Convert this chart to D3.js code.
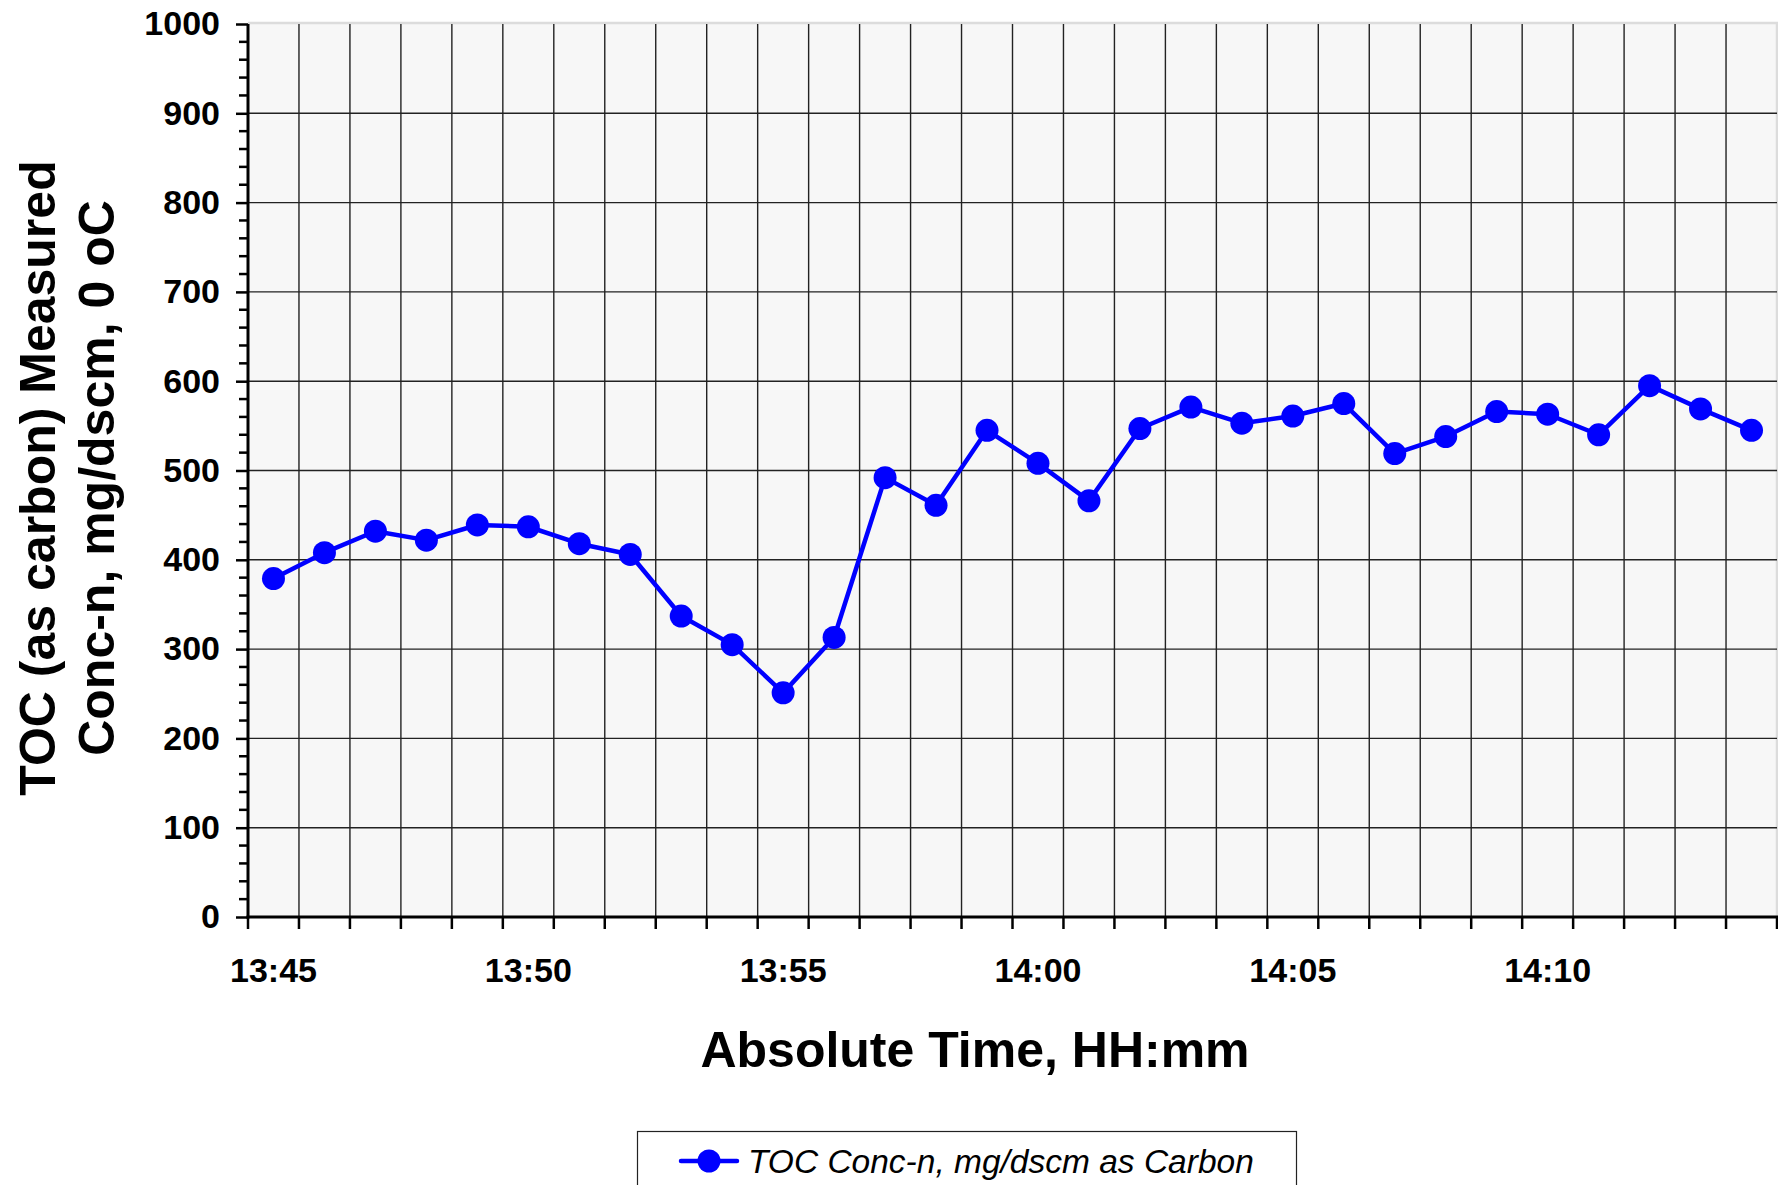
<!DOCTYPE html>
<html>
<head>
<meta charset="utf-8">
<script src="https://cdn.jsdelivr.net/npm/d3@7"></script>
<style>
html,body{margin:0;padding:0;background:#fff;}
svg{display:block;font-family:"Liberation Sans",Arial,sans-serif;}
</style>
</head>
<body>
<svg id="chart" width="1778" height="1185"></svg>
<script>
// ---- data ----
const times = ["13:45","13:46","13:47","13:48","13:49","13:50","13:51","13:52","13:53","13:54",
               "13:55","13:56","13:57","13:58","13:59","14:00","14:01","14:02","14:03","14:04",
               "14:05","14:06","14:07","14:08","14:09","14:10","14:11","14:12","14:13","14:14"];
const tocValues = [379, 408, 432, 422, 439, 437, 418, 406, 337, 305,
                   251, 313, 492, 461, 545, 508, 466, 547, 571, 553,
                   561, 575, 519, 538, 566, 563, 540, 595, 569, 545];
const xTickLabels = ["13:45","13:50","13:55","14:00","14:05","14:10"];
const yTicks = [0,100,200,300,400,500,600,700,800,900,1000];
const seriesName = "TOC Conc-n, mg/dscm as Carbon";
const xTitle = "Absolute Time, HH:mm";
const yTitleLines = ["TOC (as carbon) Measured","Conc-n, mg/dscm, 0 oC"];

// ---- layout ----
const svg = d3.select("#chart");
const L = 248, R = 1777, T = 24, B = 917;

const x = d3.scaleBand().domain(times).range([L, R]).paddingInner(0).paddingOuter(0);
const y = d3.scaleLinear().domain([0, 1000]).range([B, T]);

// plot background
svg.append("rect").attr("x", L).attr("y", T).attr("width", R - L).attr("height", B - T)
  .attr("fill", "#f7f7f7");
// light border top/right
svg.append("path").attr("d", `M${L},${T - 1}H${R}V${B}`)
  .attr("fill", "none").attr("stroke", "#dcdcdc").attr("stroke-width", 2.5);

// gridlines
const gridG = svg.append("g");
yTicks.filter(v => v > 0 && v < 1000).forEach(v => {
  gridG.append("line").attr("x1", L).attr("x2", R).attr("y1", y(v)).attr("y2", y(v))
    .attr("stroke", "#222").attr("stroke-width", 1.4);
});
times.slice(1).forEach(t => {
  gridG.append("line").attr("x1", x(t)).attr("x2", x(t)).attr("y1", T).attr("y2", B)
    .attr("stroke", "#222").attr("stroke-width", 1.4);
});

// y axis
const yAxis = d3.axisLeft(y).tickValues(yTicks).tickSize(12).tickPadding(16).tickFormat(d3.format("d"));
const yG = svg.append("g").attr("transform", `translate(${L},0)`).call(yAxis);
yG.select(".domain").remove();
yG.selectAll(".tick line").attr("stroke", "#000").attr("stroke-width", 2.5);
yG.selectAll(".tick text").attr("font-size", 34).attr("font-weight", "bold").attr("fill", "#000")
  .attr("font-family", "'Liberation Sans',Arial,sans-serif");
// minor ticks
const minor = d3.range(0, 1001, 20).filter(v => v % 100 !== 0);
svg.append("g").selectAll("line").data(minor).join("line")
  .attr("x1", L - 9).attr("x2", L).attr("y1", d => y(d)).attr("y2", d => y(d))
  .attr("stroke", "#000").attr("stroke-width", 2.5);
svg.append("line").attr("x1", L).attr("x2", L).attr("y1", T).attr("y2", B + 1.5)
  .attr("stroke", "#000").attr("stroke-width", 3);

// x axis
const tickPositions = times.map(t => x(t)).concat([R]);
svg.append("g").selectAll("line").data(tickPositions).join("line")
  .attr("x1", d => d).attr("x2", d => d).attr("y1", B).attr("y2", B + 12)
  .attr("stroke", "#000").attr("stroke-width", 2.5);
svg.append("line").attr("x1", L - 1.5).attr("x2", R + 1).attr("y1", B).attr("y2", B)
  .attr("stroke", "#000").attr("stroke-width", 3);
svg.append("g").selectAll("text").data(xTickLabels).join("text")
  .attr("x", d => x(d) + x.bandwidth() / 2).attr("y", 982)
  .attr("text-anchor", "middle").attr("font-size", 34).attr("font-weight", "bold")
  .text(d => d);

// titles
svg.append("text").attr("x", 975).attr("y", 1067).attr("text-anchor", "middle")
  .attr("font-size", 50).attr("font-weight", "bold").text(xTitle);
const yt = svg.append("g").attr("transform", "translate(0,478) rotate(-90)");
yTitleLines.forEach((s, i) => {
  yt.append("text").attr("x", 0).attr("y", 55 + i * 59).attr("text-anchor", "middle")
    .attr("font-size", 50).attr("font-weight", "bold").text(s);
});

// series
const line = d3.line().x((d, i) => x(times[i]) + x.bandwidth() / 2).y(d => y(d));
svg.append("path").datum(tocValues).attr("d", line).attr("fill", "none")
  .attr("stroke", "#0000ff").attr("stroke-width", 4.5).attr("stroke-linejoin", "round");
svg.append("g").selectAll("circle").data(tocValues).join("circle")
  .attr("cx", (d, i) => x(times[i]) + x.bandwidth() / 2).attr("cy", d => y(d))
  .attr("r", 11.5).attr("fill", "#0000ff");

// legend
svg.append("rect").attr("x", 637.5).attr("y", 1131.5).attr("width", 659).attr("height", 80)
  .attr("fill", "#fff").attr("stroke", "#222").attr("stroke-width", 1.2);
svg.append("line").attr("x1", 681).attr("x2", 737).attr("y1", 1161).attr("y2", 1161)
  .attr("stroke", "#0000ff").attr("stroke-width", 4.5).attr("stroke-linecap", "round");
svg.append("circle").attr("cx", 709).attr("cy", 1161).attr("r", 11.5).attr("fill", "#0000ff");
svg.append("text").attr("x", 748).attr("y", 1173).attr("font-size", 33.5).attr("font-style", "italic")
  .text(seriesName);
</script>
</body>
</html>
